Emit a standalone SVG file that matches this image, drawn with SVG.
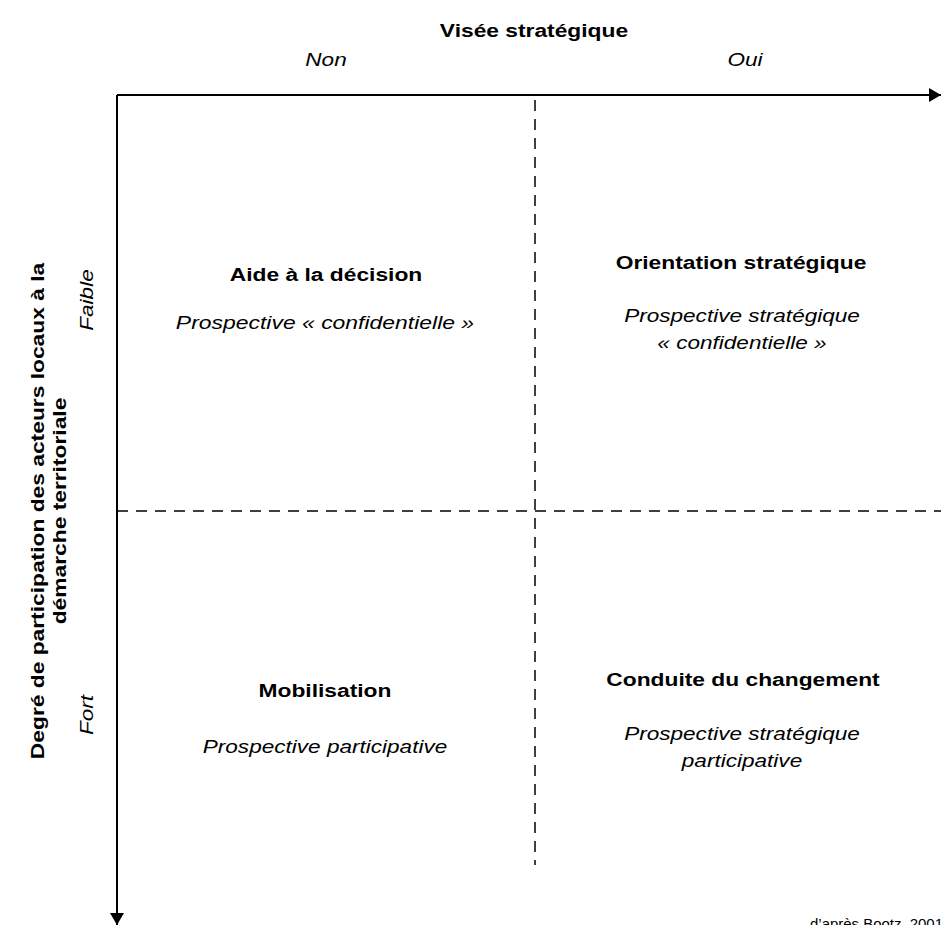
<svg xmlns="http://www.w3.org/2000/svg" width="941" height="925" viewBox="0 0 941 925">
<defs>
<style>
text{font-family:"Liberation Sans",Arial,sans-serif;fill:#000;text-anchor:middle}
.b{font-weight:bold;font-size:19px}
.i{font-style:italic;font-size:18.5px}
.axis{stroke:#000;stroke-width:2;fill:none}
.dash{stroke:#000;stroke-width:1.5;fill:none;stroke-dasharray:11 8}
</style>
<marker id="ah" viewBox="0 0 12 14" refX="12" refY="7" markerWidth="12" markerHeight="14" markerUnits="userSpaceOnUse" orient="auto">
<path d="M0,0 L12,7 L0,14 Z" fill="#000"/>
</marker>
</defs>
<rect width="941" height="925" fill="#fff"/>
<g id="connectors">
<path class="axis" d="M117,95 H941" marker-end="url(#ah)"/>
<path class="axis" d="M117,95 V925" marker-end="url(#ah)"/>
<path class="dash" d="M535,100 V865"/>
<path class="dash" d="M117,511 H941"/>
</g>
<g id="axis-x">
<text class="b" transform="translate(534,37) scale(1.2,1)">Visée stratégique</text>
<text class="i" transform="translate(326,66) scale(1.22,1)">Non</text>
<text class="i" transform="translate(745,66) scale(1.22,1)">Oui</text>
</g>
<g id="axis-y">
<text class="b" transform="translate(44,511) rotate(-90) scale(1.2,1)">Degré de participation des acteurs locaux à la</text>
<text class="b" transform="translate(66,511) rotate(-90) scale(1.2,1)">démarche territoriale</text>
<text class="i" transform="translate(93,300) rotate(-90) scale(1.22,1)">Faible</text>
<text class="i" transform="translate(93,715) rotate(-90) scale(1.22,1)">Fort</text>
</g>
<g id="q-aide">
<text class="b" transform="translate(326,281) scale(1.2,1)">Aide à la décision</text>
<text class="i" transform="translate(325,329) scale(1.24,1)">Prospective « confidentielle »</text>
</g>
<g id="q-orientation">
<text class="b" transform="translate(741,269) scale(1.2,1)">Orientation stratégique</text>
<text class="i" transform="translate(742,322) scale(1.22,1)">Prospective stratégique</text>
<text class="i" transform="translate(742,349) scale(1.22,1)">« confidentielle »</text>
</g>
<g id="q-mobilisation">
<text class="b" transform="translate(325,697) scale(1.2,1)">Mobilisation</text>
<text class="i" transform="translate(325,753) scale(1.22,1)">Prospective participative</text>
</g>
<g id="q-conduite">
<text class="b" transform="translate(743,686) scale(1.2,1)">Conduite du changement</text>
<text class="i" transform="translate(742,740) scale(1.22,1)">Prospective stratégique</text>
<text class="i" transform="translate(742,767) scale(1.22,1)">participative</text>
</g>
<g id="source">
<text x="810" y="929" style="font-size:15px;text-anchor:start" textLength="133" lengthAdjust="spacingAndGlyphs">d’après Bootz, 2001</text>
</g>
</svg>
